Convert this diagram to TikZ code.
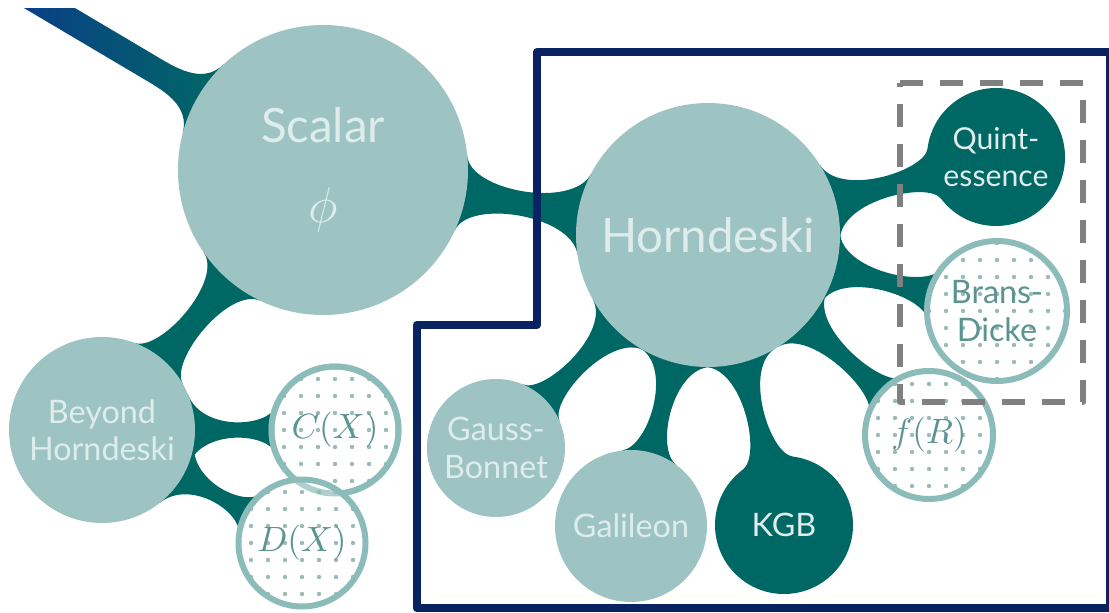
\documentclass[tikz,border=0pt]{standalone}
\usepackage{fontspec}
\setmainfont{Lato}
\usetikzlibrary{calc,backgrounds}

\definecolor{bubblec}{RGB}{157,195,195}
\definecolor{linkc}{RGB}{0,104,100}
\definecolor{ringc}{RGB}{140,188,186}
\definecolor{dotc}{RGB}{155,186,184}
\definecolor{labelc}{RGB}{222,237,235}
\definecolor{dotlabelc}{RGB}{92,148,146}
\definecolor{navyc}{RGB}{8,34,98}
\definecolor{tubeblue}{RGB}{12,56,140}
\definecolor{dashc}{RGB}{128,128,128}

\newcommand\bubblebig{\fontsize{13.5}{22}\selectfont}
\newcommand\bubblesmall{\fontsize{9.2}{10.6}\selectfont}
\newcommand\bubblemath{\fontsize{10}{10.6}\selectfont}

\tikzset{
  bubble/.style={circle, fill=bubblec, inner sep=0pt, outer sep=0pt,
    text=labelc, align=center, font=\bubblesmall},
  darkbubble/.style={bubble, fill=linkc},
  dotbubble/.style={bubble, fill=white, draw=ringc, line width=0.06cm,
    text=dotlabelc, font=\bubblemath,
    path picture={\foreach \i in {-5,...,5} \foreach \j in {-5,...,5}
      \fill[dotc] ($(path picture bounding box.center)+(\i*0.17,\j*0.17)$) circle (0.022);}},
  tubefill/.style={fill=linkc},
  bluebox/.style={draw=navyc, line width=0.08cm, line join=round},
  dashbox/.style={draw=dashc, line width=0.06cm, dash pattern=on 0.23cm off 0.17cm, line join=round},
}

% metaball-like link between two circle nodes
% #1 from, #2 to, #3 spread at from, #4 spread at to, #5 half waist (pt)
\newcommand\tube[5]{%
  \fill[tubefill] let \p1=(#1.center), \p2=(#2.center),
      \p3=($(#1.east)-(#1.center)$), \p4=($(#2.east)-(#2.center)$),
      \n1={atan2(\y2-\y1,\x2-\x1)}, \n2={scalar(\x3)}, \n3={scalar(\x4)},
      \n4={(\n2*sin(#3)-#5)/(0.75*cos(#3))},
      \n5={(\n3*sin(#4)-#5)/(0.75*cos(#4))} in
    ($(\p1)+(\n1+#3:\n2pt)$) .. controls +(\n1+#3-90:\n4pt) and +(\n1+270-#4:\n5pt) .. ($(\p2)+(\n1+180-#4:\n3pt)$)
    -- ($(\p2)+(\n1+180+#4:\n3pt)$) .. controls +(\n1+90+#4:\n5pt) and +(\n1+90-#3:\n4pt) .. ($(\p1)+(\n1-#3:\n2pt)$)
    -- cycle;}

\begin{document}
\begin{tikzpicture}
\useasboundingbox (0,0) rectangle (11.09,6.12);

% bubbles
\node[bubble, minimum size=2.9cm, font=\bubblebig] (scalar) at (3.23,4.42) {Scalar\\[0.02cm]$\phi$};
\node[bubble, minimum size=2.64cm, font=\bubblebig] (horn) at (7.08,3.77) {Horndeski};
\node[bubble, minimum size=1.86cm] (beyond) at (1.02,1.82) {Beyond\\Horndeski};
\node[dotbubble, minimum size=1.27cm] (cx) at (3.35,1.82) {$C(X)$};
\node[dotbubble, minimum size=1.27cm] (dx) at (3.02,0.69) {$D(X)$};
\draw[ringc, line width=0.06cm, draw opacity=0.7] (cx.center) circle (0.635);
\node[bubble, minimum size=1.38cm] (gauss) at (4.96,1.64) {Gauss-\\Bonnet};
\node[bubble, minimum size=1.52cm] (gal) at (6.31,0.86) {Galileon};
\node[darkbubble, minimum size=1.38cm] (kgb) at (7.84,0.87) {KGB};
\node[dotbubble, minimum size=1.28cm] (fr) at (9.29,1.77) {$f(R)$};
\node[darkbubble, minimum size=1.38cm, font=\fontsize{8.6}{10.6}\selectfont] (quint) at (9.96,4.55) {Quint-\\essence};
\node[dotbubble, minimum size=1.40cm, font=\bubblesmall] (brans) at (9.97,3.01) {Brans-\\Dicke};

\coordinate (src) at (-0.03,6.35);

% links
\begin{scope}[on background layer]
  \tube{scalar}{horn}{15}{18}{3.5}
  \tube{scalar}{beyond}{15}{20}{3.5}
  \tube{beyond}{cx}{22}{22}{2.2}
  \tube{beyond}{dx}{22}{22}{2.2}
  \tube{horn}{quint}{17}{22}{3.0}
  \foreach \leaf in {brans,fr,kgb,gal,gauss}
    {\tube{horn}{\leaf}{16}{22}{2.6}}
  \begin{scope}
  \clip (0,0) rectangle (11.09,6.03);
  \shade[left color=tubeblue, middle color=tubeblue!80!linkc, right color=linkc]
    let \p1=(src), \p2=(scalar.center), \n1={atan2(\y1-\y2,\x1-\x2)} in
    ($(\p1)+(\n1-90:0.13)$) -- ($(\p2)+(\n1:2.05)+(\n1-90:0.13)$)
    .. controls ($(\p2)+(\n1:1.8)+(\n1-90:0.13)$) and ($(\p2)+(\n1-16:1.45)+(\n1-16+90:0.3)$) .. ($(\p2)+(\n1-16:1.45)$)
    -- ($(\p2)+(\n1+16:1.45)$)
    .. controls ($(\p2)+(\n1+16:1.45)+(\n1+16-90:0.3)$) and ($(\p2)+(\n1:1.8)+(\n1+90:0.13)$) .. ($(\p2)+(\n1:2.05)+(\n1+90:0.13)$)
    -- ($(\p1)+(\n1+90:0.13)$) -- cycle;
  \end{scope}
\end{scope}

% outlines
\draw[bluebox] (5.37,5.60) -- (11.10,5.60) -- (11.10,0.04) -- (4.165,0.04)
  -- (4.165,2.87) -- (5.37,2.87) -- cycle;
\draw[dashbox] (9.00,5.29) -- (10.83,5.29) -- (10.83,2.10) -- (9.00,2.10) -- cycle;
\end{tikzpicture}
\end{document}
